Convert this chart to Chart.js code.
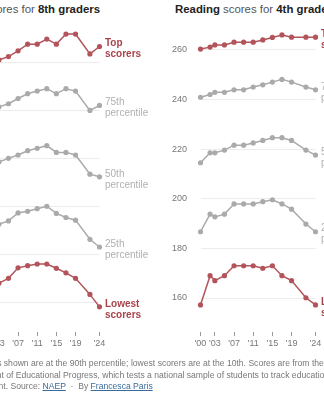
<!DOCTYPE html>
<html>
<head>
<meta charset="utf-8">
<script src="https://cdn.jsdelivr.net/npm/chart.js@4/dist/chart.umd.min.js"></script>
<style>
html, body { margin: 0; padding: 0; width: 324px; height: 400px; overflow: hidden; background: #fff; font-family: "Liberation Sans", Arial, sans-serif; }
.box { position: absolute; top: 0; width: 220px; height: 360px; }
.ttl { position: absolute; top: 2px; font-size: 11.4px; line-height: 14px; color: #555; white-space: nowrap; }
.ttl b { color: #222; }
#note { position: absolute; top: 358px; font-size: 8.6px; line-height: 11.5px; color: #777; white-space: nowrap; }
#note a { color: #3a6b9a; text-decoration: underline; }
</style>
</head>
<body>
<div class="ttl" style="right:224px"><b>Math</b> scores for <b>8th graders</b></div>
<div class="ttl" style="left:175px"><b>Reading</b> scores for <b>4th graders</b></div>
<div class="box" style="left:-46px"><canvas id="c1"></canvas></div>
<div class="box" style="left:170px"><canvas id="c2"></canvas></div>
<div id="note"><span id="pre">Top scorer</span>s shown are at the 90th percentile; lowest scorers are at the 10th. Scores are from the National<br>Assessment of Educational Progress, which tests a national sample of students to track educational<br>achievement. Source: <a>NAEP</a> &nbsp;·&nbsp; By <a>Francesca Paris</a></div>

<script>
// years and tick labels
const years8 = [2003, 2005, 2007, 2009, 2011, 2013, 2015, 2017, 2019, 2022, 2024];
const years4 = [2000, 2002, 2003, 2005, 2007, 2009, 2011, 2013, 2015, 2017, 2019, 2022, 2024];
const tickYears = [2000, 2003, 2007, 2011, 2015, 2019, 2024];

// 8th grade math (left panel)
const math8Top = [321.1, 322.5, 324.9, 327.7, 327.7, 329.8, 327.7, 331.9, 331.9, 323.6, 326.7];
const math8P75 = [301.5, 302.8, 305, 307, 308.1, 309.1, 307, 309.1, 308.1, 300, 302.1];
const math8P50 = [278.5, 280, 281.4, 283.2, 284.2, 285.3, 282.5, 282.5, 281.4, 273.4, 272.3];
const math8P25 = [252.5, 253.9, 257.2, 257.9, 259, 260, 257, 255.3, 254.2, 246.2, 243];
const math8Low = [227.9, 229.9, 234.3, 235.2, 235.9, 235.9, 234.1, 232.2, 229.9, 223.2, 218];
const math8Ticks = [220, 240, 260, 280, 300, 320];

// 4th grade reading (right panel)
const read4Top = [260.3, 261.1, 262, 262, 263.1, 263.1, 263.1, 264, 265, 266, 265.1, 265.1, 265.1];
const read4P75 = [240.9, 242, 242.9, 242.9, 243.9, 243.9, 245, 245.9, 247, 248.1, 247, 245, 243.9];
const read4P50 = [214.5, 218.5, 218.5, 219.6, 221.6, 221.6, 222.5, 223.5, 224.6, 224.6, 223.5, 219.6, 217.6];
const read4P25 = [186.7, 193.8, 192.7, 193.8, 197.9, 197.9, 197.9, 198.8, 199.6, 197.9, 195.8, 189.8, 186.7];
const read4Low = [157.2, 169, 167, 169, 173, 173, 173, 172, 173, 169, 167, 160.1, 157.2];
const read4Ticks = [160, 180, 200, 220, 240, 260];

const labelLines = [['Top', 'scorers'], ['75th', 'percentile'], ['50th', 'percentile'], ['25th', 'percentile'], ['Lowest', 'scorers']];
const red = '#b3535a', gray = '#aaaaaa';
const lineColors = [red, gray, gray, gray, red];
const textColors = ['#a8434b', '#b0b0b0', '#b0b0b0', '#b0b0b0', '#a8434b'];
const boldLabel = [true, false, false, false, true];

// names at the end of each line
const endLabels = {
    id: 'endLabels',
    afterDatasetsDraw(chart) {
        const ctx = chart.ctx;
        chart.data.datasets.forEach((ds, i) => {
            const meta = chart.getDatasetMeta(i);
            const pt = meta.data[meta.data.length - 1];
            ctx.save();
            ctx.font = (boldLabel[i] ? 'bold ' : '') + '10px "Liberation Sans", Arial, sans-serif';
            ctx.fillStyle = textColors[i];
            ctx.textBaseline = 'middle';
            labelLines[i].forEach((t, k) => ctx.fillText(t, pt.x + 5.5, pt.y - 3 + k * 11));
            ctx.restore();
        });
    }
};

function makeChart(id, years, series, yMin, yMax, yTicks) {
    return new Chart(document.getElementById(id), {
        type: 'line',
        data: {
            datasets: series.map((s, i) => ({
                data: years.map((x, j) => ({ x: x, y: s[j] })),
                borderColor: lineColors[i],
                backgroundColor: lineColors[i],
                borderWidth: 1.5,
                pointRadius: 2.6,
                pointBorderWidth: 0,
                clip: false
            }))
        },
        options: {
            responsive: true,
            maintainAspectRatio: false,
            animation: false,
            layout: { padding: { top: 30, right: 74.5, bottom: 0, left: 0 } },
            plugins: { legend: { display: false }, tooltip: { enabled: false } },
            scales: {
                x: {
                    type: 'linear',
                    min: 2000,
                    max: 2024,
                    afterBuildTicks: s => { s.ticks = tickYears.map(v => ({ value: v })); },
                    afterFit: s => { s.height = 28; },
                    ticks: {
                        autoSkip: false, maxRotation: 0, padding: 2, color: '#777',
                        font: { size: 9, family: '"Liberation Sans", Arial, sans-serif' },
                        callback: v => "'" + String(v).slice(2)
                    },
                    grid: { drawOnChartArea: false, tickLength: 4, color: '#999' },
                    border: { display: false }
                },
                y: {
                    min: yMin,
                    max: yMax,
                    afterBuildTicks: s => { s.ticks = yTicks.map(v => ({ value: v })); },
                    afterFit: s => { s.width = 30.5; },
                    ticks: { padding: 13.5, color: '#777', font: { size: 9, family: '"Liberation Sans", Arial, sans-serif' } },
                    grid: { color: '#ececec', drawTicks: false },
                    border: { display: false }
                }
            }
        },
        plugins: [endLabels]
    });
}

makeChart('c1', years8, [math8Top, math8P75, math8P50, math8P25, math8Low], 207.5, 333.6, math8Ticks);
makeChart('c2', years4, [read4Top, read4P75, read4P50, read4P25, read4Low], 146.3, 268, read4Ticks);

// the note starts off the left edge, cut just like the picture
const note = document.getElementById('note');
note.style.left = (-document.getElementById('pre').offsetWidth - 3) + 'px';
</script>
</body>
</html>
